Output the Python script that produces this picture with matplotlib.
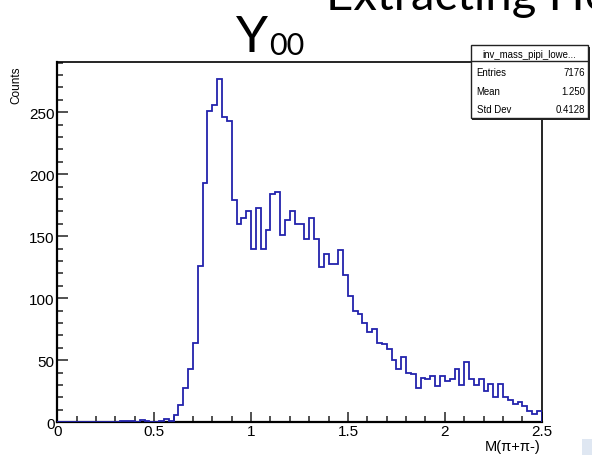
import numpy as np
import matplotlib
matplotlib.use("Agg")
import matplotlib.pyplot as plt
from matplotlib.patches import Rectangle
from matplotlib.ticker import MultipleLocator

# histogram: 100 bins from 0 to 2.5
x_min, x_max, n_bins = 0.0, 2.5, 100
counts = [
    0, 0, 0, 0, 0, 0, 0, 0, 0, 0,
    0, 0, 0, 1, 1, 1, 0, 2, 1, 0,
    0, 1, 3, 1, 6, 14, 28, 43, 64, 126,
    193, 251, 256, 277, 246, 243, 179, 160, 165, 170,
    140, 173, 140, 155, 184, 186, 151, 163, 170, 160,
    160, 148, 165, 148, 125, 136, 128, 128, 139, 119,
    102, 90, 87, 80, 73, 75, 64, 63, 59, 50,
    43, 53, 40, 39, 28, 36, 35, 37, 29, 37,
    33, 35, 43, 30, 49, 35, 30, 35, 25, 31,
    20, 31, 20, 18, 15, 16, 13, 9, 7, 9,
]

stat_names = ["Entries", "Mean", "Std Dev"]
stat_values = ["7176", "1.250", "0.4128"]
hist_name = "inv_mass_pipi_lowe..."

plt.rcParams['font.family'] = ['Liberation Sans', 'DejaVu Sans']

fig = plt.figure(figsize=(5.92, 4.56), dpi=100)
ax = fig.add_axes([0.0968, 0.0717, 0.8183, 0.7912])

edges = np.linspace(x_min, x_max, n_bins + 1)
ax.stairs(counts, edges, color='#2323ad', lw=1.3, zorder=3)

ax.set_xlim(x_min, x_max)
ax.set_ylim(0, 1.05 * max(counts))

# ROOT style axes: ticks inside, left/bottom only
ax.xaxis.set_major_locator(MultipleLocator(0.5))
ax.xaxis.set_minor_locator(MultipleLocator(0.1))
ax.yaxis.set_major_locator(MultipleLocator(50))
ax.yaxis.set_minor_locator(MultipleLocator(10))
ax.tick_params(which='both', direction='in', width=1.1, color='#222222',
               labelsize=11, top=False, right=False)
ax.tick_params(axis='x', which='major', length=7.5, pad=1.5)
ax.tick_params(axis='y', which='major', length=8, pad=2)
ax.tick_params(which='minor', length=4)
ax.set_xticks([0, 0.5, 1, 1.5, 2, 2.5])
ax.set_xticklabels(['0', '0.5', '1', '1.5', '2', '2.5'])
for side in ['left', 'bottom']:
    ax.spines[side].set_linewidth(1.6)
for side in ['top', 'right']:
    ax.spines[side].set_linewidth(1.2)

fig.text(16 / 592, 1 - 67 / 456, 'Counts', rotation=90, ha='center', va='top',
         fontsize=8.5)
fig.text(541 / 592, 1 - 440 / 456, 'M(π+π-)', ha='right', va='top', fontsize=10.5)

# stats box
bx0, bx1 = 470.7 / 592, 588 / 592
by0, by1 = 1 - 119 / 456, 1 - 46 / 456
fig.add_artist(Rectangle((bx0 + 1.5 / 592, by0 - 1.5 / 456), bx1 - bx0, by1 - by0,
                         transform=fig.transFigure, facecolor='#222222',
                         edgecolor='none', zorder=4))
fig.add_artist(Rectangle((bx0, by0), bx1 - bx0, by1 - by0,
                         transform=fig.transFigure, facecolor='white',
                         edgecolor='#222222', lw=1.0, zorder=5))
sep_y = 1 - 62.3 / 456
fig.add_artist(plt.Line2D([bx0, bx1], [sep_y, sep_y], transform=fig.transFigure,
                          color='#222222', lw=1.0, zorder=6))
fig.text((bx0 + bx1) / 2, 1 - 54.5 / 456, hist_name, ha='center', va='center',
         fontsize=6.9, zorder=7)
row_y = [73.3, 91.7, 110.0]
for name, val, ry in zip(stat_names, stat_values, row_y):
    fig.text(476.7 / 592, 1 - ry / 456, name, ha='left', va='center',
             fontsize=6.9, zorder=7)
    fig.text(585 / 592, 1 - ry / 456, val, ha='right', va='center',
             fontsize=6.9, zorder=7)

# slide overlay text
fig.text(236 / 592, 1 - 52 / 456, 'Y', ha='left', va='baseline',
         fontsize=37, family=['Lato', 'DejaVu Sans'])
fig.text(269 / 592, 1 - 55 / 456, '00', ha='left', va='baseline',
         fontsize=22, family=['Lato', 'DejaVu Sans'])
fig.text(326 / 592, 1 - 9.5 / 456, 'Extracting He', ha='left', va='baseline',
         fontsize=34, family=['Lato', 'DejaVu Sans'])
fig.add_artist(Rectangle((582 / 592, 0), 10 / 592, 16 / 456,
                         transform=fig.transFigure, facecolor='#dfe7f2',
                         edgecolor='none'))

fig.savefig('out.png', dpi=100)
plt.close(fig)
